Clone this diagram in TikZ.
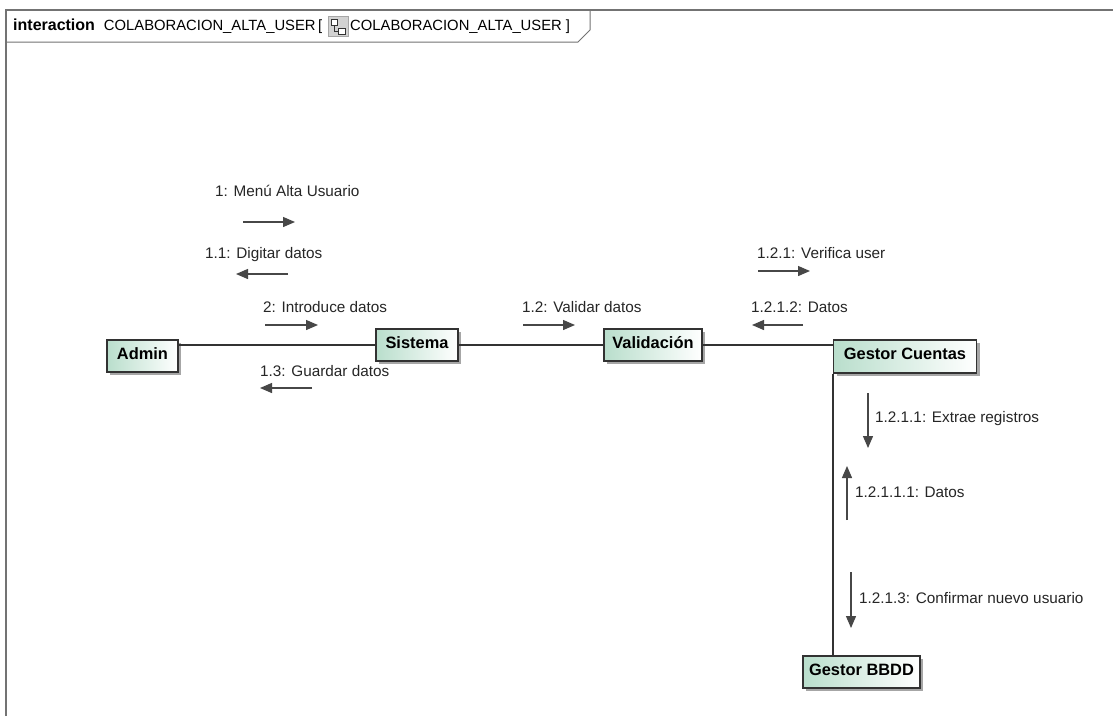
\documentclass[tikz,border=0pt]{standalone}
\usepackage{fontspec}
\setmainfont{Liberation Sans}
\usetikzlibrary{arrows.meta,shadows}
\definecolor{boxgreen}{RGB}{185,222,204}
\definecolor{linegray}{RGB}{50,50,50}
\definecolor{framegray}{RGB}{115,115,115}
\begin{document}
\begin{tikzpicture}[x=1pt,y=-1pt,
  obj/.style={draw=linegray, line width=1.1pt, left color=boxgreen, right color=white,
    inner sep=0pt, text depth=5pt, font=\fontsize{16.4}{18}\selectfont\bfseries,
    drop shadow={shadow xshift=3pt,shadow yshift=-3pt,fill=black!35,opacity=1}},
  link/.style={draw=linegray, line width=1.2pt},
  msg/.style={draw=linegray!90, line width=1.3pt, -{Triangle[length=12pt,width=10pt]}},
  lbl/.style={anchor=west, inner sep=0pt, text height=11pt, text depth=0pt,
    font=\fontsize{15.3}{18}\selectfont, text=black!85}]
\useasboundingbox (0,0) rectangle (1113,716);
\fill[white] (0,0) rectangle (1113,716);

% frame
\draw[framegray, line width=1.5pt] (6,716) -- (6,10) -- (1113,10);
\draw[framegray, line width=1pt] (6,42) -- (578,42) -- (590,30) -- (590,10);

% header
\node[anchor=west, inner sep=0pt, text height=11pt, text depth=0pt] (hdr1) at (13,25)
  {{\fontsize{16}{18}\selectfont\bfseries interaction}\hspace{9pt}{\fontsize{14.8}{18}\selectfont COLABORACION\_ALTA\_USER\,[}};
\draw[gray!70, fill=gray!35] (328,16) rectangle (348,36);
\draw[gray!40!black, fill=white, line width=0.6pt] (331,19) rectangle (337,25);
\draw[gray!40!black, fill=white, line width=0.6pt] (338,28) rectangle (345,34);
\draw[gray!40!black, line width=0.6pt] (334,25) -- (334,31) -- (338,31);
\node[anchor=west, inner sep=0pt, text height=11pt, text depth=0pt] (hdr2) at (350,25)
  {\fontsize{14.8}{18}\selectfont COLABORACION\_ALTA\_USER ]};

% objects
\node[obj, minimum width=71pt, minimum height=32pt] (admin) at (142.5,356) {Admin};
\node[obj, minimum width=82pt, minimum height=32pt] (sistema) at (417,345) {Sistema};
\node[obj, minimum width=98pt, minimum height=32pt] (validacion) at (653,345) {Validación};
\node[obj, minimum width=143pt, minimum height=33pt] (gestorc) at (905,356.5) {Gestor Cuentas};
\node[obj, minimum width=117pt, minimum height=32pt] (gestorb) at (861.5,672) {Gestor BBDD};

% links
\draw[link] (sistema.west) -- (sistema.west -| admin.east);
\draw[link] (sistema.east) -- (validacion.west);
\draw[link] (validacion.east) -- (validacion.east -| gestorc.west);
\draw[link] (gestorc.south west) -- (gestorc.south west |- gestorb.north);

% labels
\node[lbl] (l1) at (215,191) {1: Menú Alta Usuario};
\node[lbl] (l11) at (205,253) {1.1: Digitar datos};
\node[lbl] (l2) at (263,307) {2: Introduce datos};
\node[lbl] (l13) at (260,371) {1.3: Guardar datos};
\node[lbl] (l12) at (522,307) {1.2: Validar datos};
\node[lbl] (l121) at (757,253) {1.2.1: Verifica user};
\node[lbl] (l1212) at (751,307) {1.2.1.2: Datos};
\node[lbl] (l1211) at (875,417) {1.2.1.1: Extrae registros};
\node[lbl] (l12111) at (855,492) {1.2.1.1.1: Datos};
\node[lbl] (l1213) at (859,598) {1.2.1.3: Confirmar nuevo usuario};

% message arrows
\coordinate (a1s) at (243,222); \coordinate (a1e) at (295,222);
\coordinate (a11s) at (288,274); \coordinate (a11e) at (236,274);
\coordinate (a2s) at (265,325); \coordinate (a2e) at (318,325);
\coordinate (a13s) at (312,388); \coordinate (a13e) at (260,388);
\coordinate (a12s) at (523,325); \coordinate (a12e) at (575,325);
\coordinate (a121s) at (758,271); \coordinate (a121e) at (810,271);
\coordinate (a1212s) at (803,325); \coordinate (a1212e) at (752,325);
\coordinate (a1211s) at (868,393); \coordinate (a1211e) at (868,448);
\coordinate (a12111s) at (847,520); \coordinate (a12111e) at (847,466);
\coordinate (a1213s) at (851,572); \coordinate (a1213e) at (851,628);
\draw[msg] (a1s) -- (a1e);
\draw[msg] (a11s) -- (a11e);
\draw[msg] (a2s) -- (a2e);
\draw[msg] (a13s) -- (a13e);
\draw[msg] (a12s) -- (a12e);
\draw[msg] (a121s) -- (a121e);
\draw[msg] (a1212s) -- (a1212e);
\draw[msg] (a1211s) -- (a1211e);
\draw[msg] (a12111s) -- (a12111e);
\draw[msg] (a1213s) -- (a1213e);
\end{tikzpicture}
\end{document}
